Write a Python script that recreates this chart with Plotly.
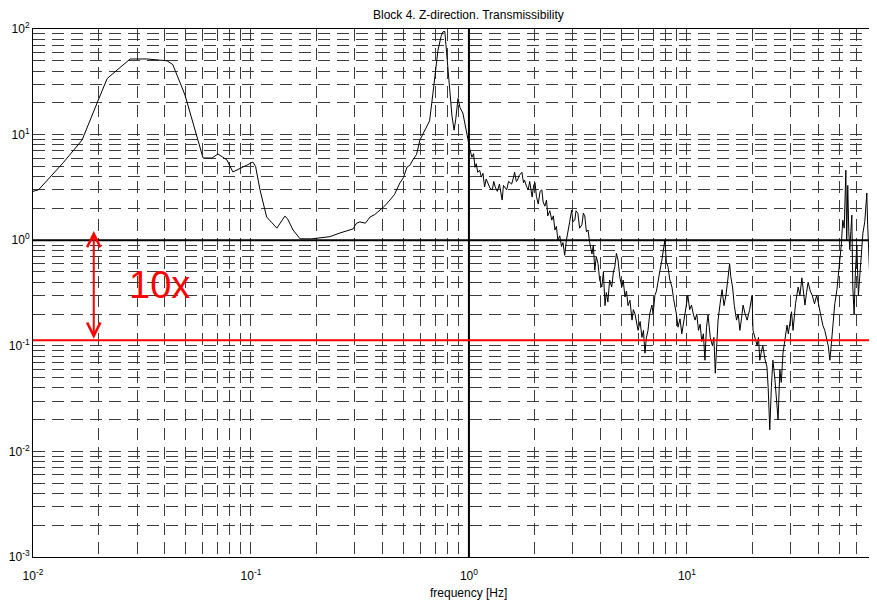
import math
import plotly.graph_objects as go

# ---------------- data ----------------
freq_hz = [
    0.0100, 0.0106, 0.01374, 0.0168, 0.0197, 0.0219, 0.0279, 0.0333, 0.0412, 0.0438,
    0.0498, 0.0603, 0.0662, 0.0706, 0.0776, 0.0826, 0.0960, 0.102, 0.105, 0.110,
    0.118, 0.1315, 0.143, 0.147, 0.156, 0.168, 0.19, 0.21, 0.23, 0.256,
    0.294, 0.305, 0.316, 0.335, 0.352, 0.37, 0.391, 0.41, 0.434, 0.455,
    0.482, 0.50, 0.52, 0.535, 0.553, 0.575, 0.596, 0.615, 0.641, 0.66,
    0.684, 0.721, 0.745, 0.76, 0.775, 0.785, 0.80, 0.82, 0.836, 0.855,
    0.87, 0.891, 0.91, 0.938, 0.96, 0.979, 0.99,
    1.011, 1.032, 1.05, 1.066, 1.08, 1.097, 1.12, 1.14, 1.16, 1.18,
    1.20, 1.22, 1.25, 1.28, 1.30, 1.32, 1.35, 1.38, 1.42, 1.44,
    1.46, 1.49, 1.52, 1.57, 1.60, 1.62, 1.65, 1.67, 1.70, 1.75,
    1.78, 1.80, 1.84, 1.87, 1.90, 1.95, 1.98, 2.01, 2.04, 2.08,
    2.12, 2.16, 2.19, 2.23, 2.27, 2.30, 2.35, 2.40, 2.44, 2.48,
    2.52, 2.56, 2.61, 2.66, 2.70, 2.75, 2.80, 2.84, 2.90, 2.96,
    3.00, 3.06, 3.10, 3.16, 3.22, 3.30, 3.35, 3.40, 3.46, 3.52,
    3.58, 3.67, 3.72, 3.78, 3.84, 3.91, 3.98, 4.07, 4.14, 4.21,
    4.27, 4.34, 4.42, 4.52, 4.60, 4.67, 4.75, 4.83, 4.92, 5.03,
    5.10, 5.20, 5.28, 5.37, 5.48, 5.60, 5.68, 5.78, 5.88, 5.97,
    6.10, 6.22, 6.32, 6.42, 6.52, 6.63, 6.75, 6.91, 7.00, 7.13,
    7.25, 7.37, 7.50, 7.68, 7.80, 7.92, 8.05, 8.19, 8.35, 8.54,
    8.68, 8.81, 8.95, 9.10, 9.30, 9.48, 9.62, 9.79, 9.95, 10.1,
    10.3, 10.5, 10.7, 10.9, 11.1, 11.3, 11.5, 11.7, 11.9, 12.1,
    12.3, 12.5, 12.8, 13.1, 13.3, 13.5, 13.7, 13.9, 14.2, 14.5,
    14.8, 15.1, 15.4, 15.7, 15.9, 16.2, 16.5, 16.9, 17.2, 17.5,
    17.8, 18.1, 18.5, 18.9, 19.4, 19.9, 20.1, 20.5, 21.0, 21.3,
    21.6, 22.0, 22.3, 22.8, 23.3, 23.6, 24.0, 24.4, 24.8, 25.3,
    25.9, 26.2, 26.7, 27.1, 27.6, 28.2, 28.8, 29.2, 29.7, 30.2,
    30.7, 31.5, 32.4, 33.0, 33.7, 34.2, 34.8, 35.4, 36.0, 36.8,
    37.6, 38.5, 39.4, 40.0, 40.7, 41.3, 42.0, 42.9, 43.8, 44.5,
    45.3, 46.0, 46.7, 47.7, 48.8, 49.5, 50.3, 51.1, 51.9, 52.7,
    53.6, 54.1, 54.7, 55.3, 55.9, 56.5, 57.1, 57.7, 58.5, 59.3,
    60.2, 61.2, 62.2, 63.2, 64.2, 65.5, 66.9, 67.5, 68.0, 68.6,
    69.1, 70.0, 70.6, 71.3, 72.0, 72.8, 73.6, 74.4, 75.5,
]
transmissibility = [
    2.9, 3.0, 5.4, 8.9, 20, 34, 52, 52, 50, 46,
    23.7, 6.0, 6.0, 6.55, 5.75, 4.43, 5.15, 5.5, 5.0, 3.0,
    1.66, 1.3, 1.69, 1.6, 1.25, 1.03, 1.03, 1.06, 1.08, 1.17,
    1.28, 1.45, 1.49, 1.45, 1.66, 1.75, 1.93, 2.1, 2.4, 2.7,
    3.48, 3.9, 4.93, 5.1, 5.75, 6.5, 8.9, 10.2, 11.8, 13.5,
    24.8, 63, 85, 94, 95, 70, 44, 25, 15, 11,
    14, 22, 18, 16, 12, 10.3, 9.0,
    7.2, 6.1, 6.6, 4.9, 5.3, 4.4, 4.6, 3.96, 4.3, 3.2,
    3.8, 3.48, 3.1, 3.0, 3.6, 3.19, 2.9, 3.4, 2.4, 3.3,
    3.2, 3.0, 3.6, 3.4, 3.9, 4.4, 3.6, 3.7, 4.1, 4.4,
    3.5, 3.7, 3.2, 3.0, 3.6, 2.56, 3.3, 3.5, 2.6, 2.2,
    2.9, 3.0, 2.3, 2.1, 2.4, 1.7, 1.9, 1.55, 1.7, 1.25,
    1.35, 1.0, 1.1, 0.87, 0.95, 0.72, 1.0, 1.15, 1.5, 1.93,
    1.5, 1.55, 1.9, 1.8, 1.3, 1.4, 1.8, 1.7, 1.2, 1.25,
    0.95, 0.74, 0.9, 0.52, 0.7, 0.6, 0.42, 0.36, 0.5, 0.24,
    0.32, 0.26, 0.42, 0.36, 0.5, 0.56, 0.75, 0.65, 0.45, 0.36,
    0.42, 0.29, 0.33, 0.24, 0.27, 0.175, 0.22, 0.2, 0.16, 0.14,
    0.17, 0.12, 0.14, 0.085, 0.12, 0.14, 0.2, 0.243, 0.2, 0.3,
    0.33, 0.42, 0.5, 0.65, 0.8, 1.0, 0.62, 0.56, 0.42, 0.36,
    0.28, 0.243, 0.2, 0.15, 0.18, 0.13, 0.16, 0.196, 0.25, 0.30,
    0.22, 0.243, 0.2, 0.175, 0.2, 0.14, 0.16, 0.11, 0.13, 0.073,
    0.15, 0.196, 0.12, 0.1, 0.12, 0.055, 0.1, 0.175, 0.25, 0.34,
    0.24, 0.3, 0.42, 0.6, 0.45, 0.36, 0.24, 0.175, 0.2, 0.14,
    0.18, 0.243, 0.2, 0.175, 0.22, 0.30, 0.14, 0.12, 0.1, 0.12,
    0.073, 0.09, 0.1, 0.075, 0.063, 0.04, 0.016, 0.04, 0.073, 0.05,
    0.028, 0.02, 0.059, 0.045, 0.085, 0.12, 0.157, 0.13, 0.175, 0.21,
    0.14, 0.25, 0.36, 0.3, 0.44, 0.32, 0.243, 0.32, 0.4, 0.33,
    0.3, 0.25, 0.3, 0.26, 0.22, 0.19, 0.157, 0.14, 0.113, 0.1,
    0.073, 0.11, 0.157, 0.25, 0.34, 0.5, 0.65, 0.9, 1.55, 1.3,
    4.6, 1.0, 3.3, 1.2, 0.81, 1.2, 1.73, 0.36, 0.2, 0.5,
    0.9, 0.3, 0.52, 0.75, 1.17, 1.5, 2.8, 1.4, 0.9, 0.6,
    0.42, 0.25, 0.14, 0.81, 0.5, 1.0, 0.7, 0.6, 0.4,
]

x_decades = [0.01, 0.1, 1, 10]
x_labels = ["10<sup>-2</sup>", "10<sup>-1</sup>", "10<sup>0</sup>", "10<sup>1</sup>"]
y_decades = [0.001, 0.01, 0.1, 1, 10, 100]
y_labels = ["10<sup>-3</sup>", "10<sup>-2</sup>", "10<sup>-1</sup>",
            "10<sup>0</sup>", "10<sup>1</sup>", "10<sup>2</sup>"]

x_min, x_max = 0.01, 74.5
y_min, y_max = 0.001, 100
unity_level = 1.0
red_level = 0.113
arrow_freq = 0.019
arrow_top = 1.22
label_freq, label_value = 0.038, 0.375
label_text = "10x"
title_text = "Block 4. Z-direction. Transmissibility"
xlabel_text = "frequency [Hz]"

# minor grid positions (2..9 of every decade)
x_minor = [m * d for d in [0.01, 0.1, 1, 10] for m in range(2, 10) if m * d <= x_max]
y_minor = [m * d for d in [0.001, 0.01, 0.1, 1, 10] for m in range(2, 10)]

FONT = "Liberation Sans, Arial, sans-serif"
GRID = "#3c3c3c"
DASH = "12px,7px"

fig = go.Figure()

fig.add_trace(go.Scatter(x=freq_hz, y=transmissibility, mode="lines",
                         line=dict(color="black", width=1), showlegend=False))
# unity line
fig.add_trace(go.Scatter(x=[x_min, x_max], y=[unity_level, unity_level], mode="lines",
                         line=dict(color="black", width=2), showlegend=False))
# vertical line at 1 Hz
fig.add_trace(go.Scatter(x=[unity_level, unity_level], y=[y_min, y_max], mode="lines",
                         line=dict(color="black", width=2), showlegend=False))
# red reference line
fig.add_trace(go.Scatter(x=[x_min, x_max], y=[red_level, red_level], mode="lines",
                         line=dict(color="#ff0000", width=2), showlegend=False))

# red double arrow (annotation coords on log axes are log10)
fig.add_annotation(x=math.log10(arrow_freq), y=math.log10(arrow_top),
                   ax=math.log10(arrow_freq), ay=math.log10(red_level),
                   xref="x", yref="y", axref="x", ayref="y",
                   showarrow=True, arrowside="end+start", arrowhead=5,
                   startarrowhead=5, arrowsize=1.3, startarrowsize=1.3,
                   arrowwidth=2, arrowcolor="#ff0000", text="")
fig.add_annotation(x=math.log10(label_freq), y=math.log10(label_value),
                   xref="x", yref="y", text=label_text, showarrow=False,
                   font=dict(family=FONT, size=38, color="#ff0000"))
# title and x label, centred on 1 Hz as in the reference
fig.add_annotation(x=0, y=1.0265, xref="x", yref="paper", text=title_text,
                   showarrow=False, yanchor="middle",
                   font=dict(family=FONT, size=12, color="black"))
fig.add_annotation(x=0, y=-0.068, xref="x", yref="paper", text=xlabel_text,
                   showarrow=False, yanchor="middle",
                   font=dict(family=FONT, size=12, color="black"))

fig.update_xaxes(type="log", range=[math.log10(x_min), math.log10(x_max)],
                 tickmode="array", tickvals=x_decades, ticktext=x_labels,
                 showgrid=True, gridcolor=GRID, gridwidth=1, griddash=DASH,
                 minor=dict(tickmode="array", tickvals=x_minor, showgrid=True,
                            gridcolor=GRID, gridwidth=1, griddash=DASH, ticks=""),
                 showline=True, linecolor="black", linewidth=1, mirror=True,
                 ticks="", ticklabelstandoff=8, zeroline=False, automargin=False,
                 tickfont=dict(family=FONT, size=12, color="black"))
fig.update_yaxes(type="log", range=[math.log10(y_min), math.log10(y_max)],
                 tickmode="array", tickvals=y_decades, ticktext=y_labels,
                 showgrid=True, gridcolor=GRID, gridwidth=1, griddash=DASH,
                 minor=dict(tickmode="array", tickvals=y_minor, showgrid=True,
                            gridcolor=GRID, gridwidth=1, griddash=DASH, ticks=""),
                 showline=True, linecolor="black", linewidth=1, mirror=False,
                 ticks="", zeroline=False, automargin=False,
                 tickfont=dict(family=FONT, size=12, color="black"))

# the page body adds an 8 px offset, so margins are reduced to compensate
fig.update_layout(width=877, height=604, autosize=False,
                  margin=dict(l=25, r=8, t=21, b=55, autoexpand=False),
                  paper_bgcolor="white", plot_bgcolor="white",
                  showlegend=False)

fig.write_html("out.html")
